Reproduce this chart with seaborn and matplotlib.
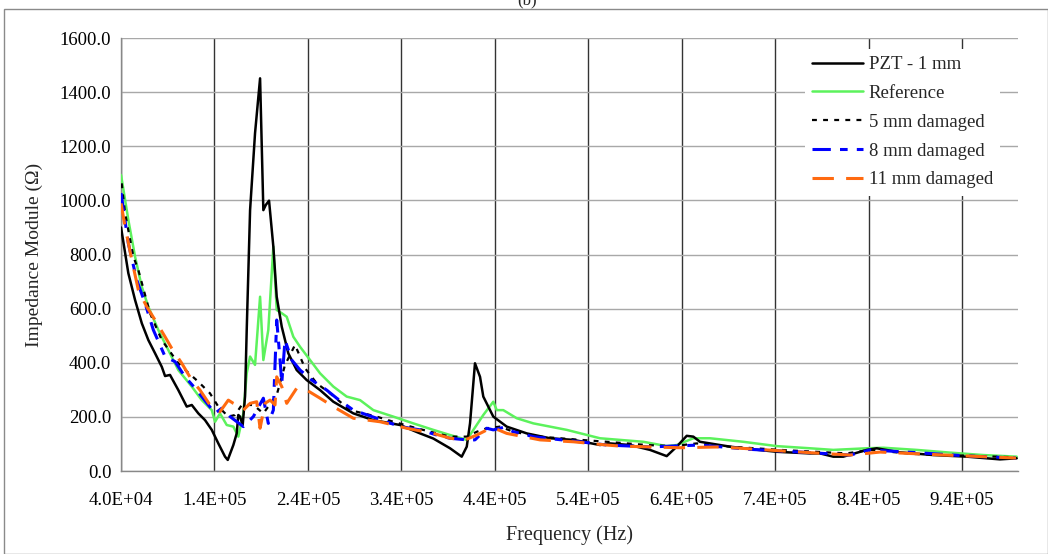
import matplotlib
matplotlib.use("Agg")
import matplotlib.pyplot as plt
import seaborn as sns
import numpy as np
from matplotlib.ticker import FuncFormatter
from matplotlib.patches import Rectangle

# ---------------- data ----------------
pzt_f = [40000, 47800, 55000, 62200, 69200, 76400, 83600, 87100, 92400, 101300, 110300, 115700,
         122700, 129900, 137100, 144100, 151300, 154200, 160200, 163800, 165500, 167400, 170200,
         172700, 174500, 178100, 183400, 188800, 192300, 194900, 198400, 203000, 206600, 212000,
         219000, 228000, 238700, 253000, 267200, 288600, 310000, 338600, 360000, 374200, 392100,
         404600, 410000, 413500, 418800, 424200, 427700, 438400, 452800, 474200, 499100, 524100,
         552600, 563300, 584700, 606100, 624000, 634700, 645400, 652500, 659600, 670300, 691700,
         716700, 741700, 777400, 788100, 802300, 813000, 838100, 848800, 873700, 909300, 945100,
         980700, 998600]
pzt_z = [900, 731, 632, 546, 484, 435, 385, 351, 355, 299, 238, 244,
         213, 188, 152, 102, 53, 41, 96, 139, 207, 201, 170,
         275, 521, 964, 1248, 1451, 964, 983, 999, 829, 644, 533,
         435, 373, 336, 299, 256, 213, 188, 170, 139, 120, 84,
         53, 90, 176, 398, 348, 275, 201, 164, 139, 121, 115,
         96, 102, 96, 78, 55, 90, 130, 127, 108, 102, 90,
         80, 71, 65, 65, 53, 53, 78, 84, 69, 59, 53,
         43, 47]

ref_f = [40000, 47800, 55000, 62200, 69200, 79900, 90600, 101300, 115700, 126400, 137100, 140600,
         145900, 153100, 160200, 165500, 170900, 174500, 178100, 183400, 188800, 192300, 197600,
         203000, 206600, 212000, 217300, 224400, 231600, 242300, 253000, 267200, 281500, 295800,
         310000, 331400, 352800, 374200, 392100, 410000, 427700, 438400, 442100, 449100, 463500,
         481300, 517000, 552600, 598900, 624000, 634700, 652500, 670300, 705900, 741700, 777400,
         802300, 838100, 855800, 891600, 927200, 962800, 998600]
ref_z = [1094, 928, 792, 681, 607, 521, 447, 373, 312, 262, 225, 182,
         213, 170, 164, 127, 213, 361, 423, 392, 644, 410, 521,
         829, 595, 583, 570, 496, 459, 410, 361, 312, 275, 262,
         225, 201, 176, 152, 133, 115, 207, 256, 225, 225, 195,
         176, 152, 121, 108, 92, 96, 121, 121, 108, 92, 84,
         78, 84, 86, 78, 68, 59, 53]

d5_f = [40700, 44300, 53200, 58500, 71000, 83600, 101300, 112000, 122700, 135200, 144100, 154800,
        162000, 169200, 181600, 192300, 206600, 215500, 226200, 236900, 249400, 263700, 285100,
        313600, 331400, 356500, 377900, 392100, 410000, 420700, 431400, 445600, 459900, 488400,
        524100, 559800, 602600, 631100, 656100, 691700, 745200, 816600, 841600, 887900, 959300,
        995000]
d5_z = [1063, 953, 792, 743, 583, 484, 398, 363, 330, 287, 238, 201,
        207, 244, 244, 213, 281, 392, 466, 380, 324, 287, 225,
        201, 182, 158, 139, 127, 127, 145, 158, 164, 145, 127,
        117, 108, 96, 92, 102, 90, 78, 65, 78, 63, 55,
        51]

d8_f = [40000, 47800, 56800, 65700, 74600, 87100, 97800, 108500, 119200, 126400, 140600, 147800,
        156700, 170900, 181600, 192300, 197600, 203000, 206600, 210200, 212000, 215500, 222700,
        231600, 244100, 260100, 270800, 288600, 313600, 338600, 360000, 377900, 392100, 410000,
        418800, 431400, 438400, 449100, 459900, 481300, 506300, 531200, 559800, 606100, 659600,
        713100, 766700, 820200, 841600, 895100, 948600, 997800]
d8_z = [1027, 841, 706, 620, 521, 423, 404, 348, 306, 275, 213, 232,
        201, 164, 201, 269, 176, 225, 558, 410, 324, 484, 410,
        373, 336, 299, 269, 225, 195, 164, 152, 133, 121, 115,
        115, 158, 152, 161, 145, 127, 117, 108, 96, 89, 96,
        80, 70, 59, 78, 67, 55, 48]

d11_f = [40000, 44300, 51500, 58500, 67500, 76400, 87100, 94300, 105000, 115700, 124500, 135200,
         144100, 145900, 154800, 160200, 167400, 170900, 178100, 185200, 188800, 194100, 199500,
         204800, 206600, 212000, 217300, 228000, 238700, 253000, 267200, 288600, 317200, 345800,
         374200, 392100, 408200, 420700, 427700, 434900, 443800, 452800, 470600, 488400, 524100,
         559800, 574000, 638200, 681000, 766700, 820200, 852300, 895100, 948600, 997800]
d11_z = [989, 903, 780, 669, 607, 558, 496, 453, 398, 336, 299, 244,
         225, 219, 262, 250, 238, 225, 250, 256, 158, 250, 262,
         244, 348, 312, 250, 306, 299, 269, 238, 195, 182, 158,
         139, 121, 115, 133, 145, 158, 152, 139, 127, 115, 108,
         96, 92, 86, 89, 70, 59, 70, 63, 55, 48]

xticks = [40000, 140000, 240000, 340000, 440000, 540000, 640000, 740000, 840000, 940000]
yticks = [0, 200, 400, 600, 800, 1000, 1200, 1400, 1600]

# ---------------- plot ----------------
sns.set_theme(style="white")
plt.rcParams['font.family'] = ['Liberation Serif', 'DejaVu Serif']

FS = 13.5
fig = plt.figure(figsize=(10.48, 5.54), dpi=100)
ax = fig.add_axes([0.1155, 0.1498, 0.9714 - 0.1155, 0.9314 - 0.1498])

# gridlines
for xv in xticks:
    ax.axvline(xv, color='#333333', lw=1.0, zorder=0)
for yv in yticks:
    ax.axhline(yv, color='#a8a8a8', lw=1.0, zorder=0)

D5 = [2.2, 2.8]
D8 = [6, 3, 2.5, 3]
D11 = [7, 4]

sns.lineplot(x=ref_f, y=ref_z, ax=ax, color='#5cf25c', lw=1.8, sort=False, estimator=None,
             label='Reference', zorder=3)
sns.lineplot(x=pzt_f, y=pzt_z, ax=ax, color='black', lw=1.8, sort=False, estimator=None,
             label='PZT - 1 mm', zorder=4)
sns.lineplot(x=d5_f, y=d5_z, ax=ax, color='black', lw=1.6, sort=False, estimator=None,
             label='5 mm damaged', zorder=5)
sns.lineplot(x=d8_f, y=d8_z, ax=ax, color='#0000ff', lw=2.2, sort=False, estimator=None,
             label='8 mm damaged', zorder=6)
sns.lineplot(x=d11_f, y=d11_z, ax=ax, color='#ff6a10', lw=2.2, sort=False, estimator=None,
             label='11 mm damaged', zorder=7)

data_lines = [ln for ln in ax.get_lines() if len(ln.get_xdata()) > 2]
data_lines[2].set_dashes(D5)
data_lines[3].set_dashes(D8)
data_lines[4].set_dashes(D11)

ax.set_xlim(40000, 1000000)
ax.set_ylim(0, 1600)
ax.set_xticks(xticks)
ax.set_yticks(yticks)
ax.xaxis.set_major_formatter(FuncFormatter(lambda v, p: "%.1E" % v))
ax.yaxis.set_major_formatter(FuncFormatter(lambda v, p: "%.1f" % v))
ax.tick_params(axis='both', labelsize=FS, direction='out', length=4, width=1,
               color='#888888', colors='black')
ax.tick_params(axis='x', pad=11)
ax.tick_params(axis='y', pad=3)
for s in ['top', 'right']:
    ax.spines[s].set_visible(False)
for s in ['left', 'bottom']:
    ax.spines[s].set_color('#888888')
    ax.spines[s].set_linewidth(1.0)

ax.set_xlabel('Frequency (Hz)', fontsize=14.5, labelpad=12)
ax.set_ylabel('Impedance Module (Ω)', fontsize=14, labelpad=12)

handles, labels = ax.get_legend_handles_labels()
order = ['PZT - 1 mm', 'Reference', '5 mm damaged', '8 mm damaged', '11 mm damaged']
hmap = dict(zip(labels, handles))
leg = ax.legend([hmap[k] for k in order], order, loc='upper left',
                bbox_to_anchor=(0.752, 0.997), frameon=True, fontsize=FS,
                handlelength=2.7, handletextpad=0.3, labelspacing=0.62,
                borderpad=0.4, facecolor='white', edgecolor='white', framealpha=1.0)
leg.get_frame().set_linewidth(0)
leg.set_zorder(10)
leg_lines = leg.get_lines()
leg_lines[2].set_dashes(D5)
leg_lines[3].set_dashes(D8)
leg_lines[4].set_dashes(D11)

fig.add_artist(Rectangle((4 / 1048, 0.0), 1 - 4 / 1048, 1 - 9 / 554, transform=fig.transFigure,
                         fill=False, edgecolor='#8a8a8a', lw=1.0))
fig.text(0.503, 1.0, '(b)', ha='center', va='center', fontsize=12)

fig.savefig('out.png', dpi=100)
